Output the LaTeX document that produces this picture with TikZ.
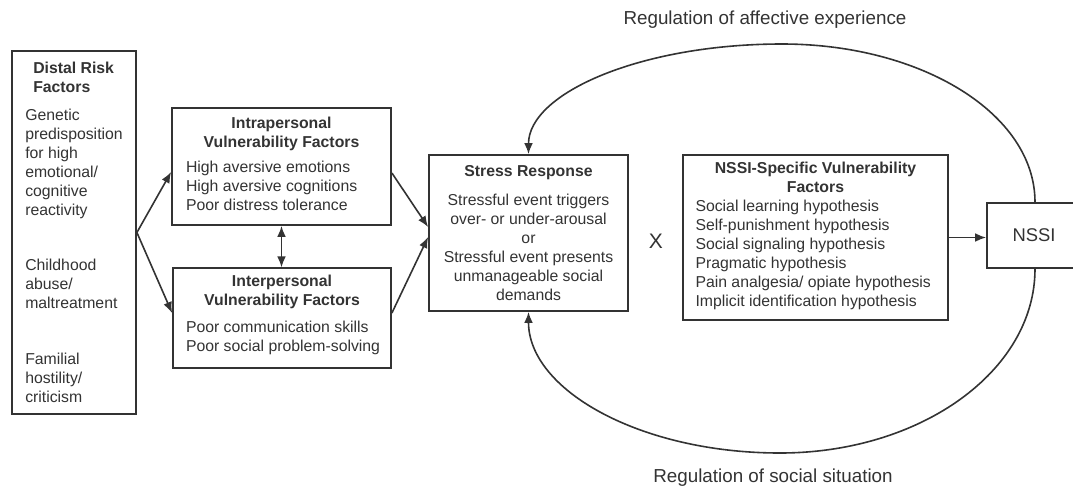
\documentclass[tikz,border=0pt]{standalone}
\usepackage{fontspec}
\setmainfont{Liberation Sans}
\usetikzlibrary{arrows.meta}
\definecolor{ink}{HTML}{333333}

\begin{document}
\begin{tikzpicture}[x=0.5pt, y=-0.5pt, ink, text=ink,
  font=\fontsize{7.9}{9.5}\selectfont,
  >={Latex[length=5.5pt,width=4.4pt]},
  box/.style={draw, line width=0.9pt, align=center},
  arr/.style={->, line width=0.8pt},
  lbl/.style={font=\fontsize{9.4}{11}\selectfont}]
\useasboundingbox (0,0) rectangle (1073,489);

% Distal risk factors
\node[box, align=left, minimum width=62pt, minimum height=181.5pt] (distal) at (74,232.5)
  {\hspace*{4pt}\textbf{Distal Risk}\\\hspace*{4pt}\textbf{Factors}\\[4.8pt]
   Genetic\\predisposition\\for high\\emotional/\\cognitive\\reactivity\\[18pt]
   Childhood\\abuse/\\maltreatment\\[18.5pt]
   Familial\\hostility/\\criticism};

% Vulnerability factors
\node[box, minimum width=109.5pt, minimum height=58.5pt] (intra) at (281.5,166.5)
  {\textbf{Intrapersonal}\\\textbf{Vulnerability Factors}\\[3pt]
   \makebox[95.5pt][l]{\begin{tabular}[t]{@{}l@{}}High aversive emotions\\High aversive cognitions\\Poor distress tolerance\end{tabular}}};
\node[box, minimum width=109pt, minimum height=49pt] (inter) at (282,318)
  {\textbf{Interpersonal}\\\textbf{Vulnerability Factors}\\[4pt]
   \makebox[96pt][l]{\begin{tabular}[t]{@{}l@{}}Poor communication skills\\Poor social problem-solving\end{tabular}}\\[1pt]\mbox{}};

% Stress response
\node[box, minimum width=99.5pt, minimum height=78pt] (stress) at (528.5,233)
  {\textbf{Stress Response}\\[4.8pt]Stressful event triggers\\over- or under-arousal\\or\\Stressful event presents\\unmanageable social\\demands};

\node[font=\fontsize{10.5}{12}\selectfont] (times) at (656,241) {X};

% NSSI-specific factors and NSSI
\node[box, minimum width=132.5pt, minimum height=82.5pt] (spec) at (815.5,237.5)
  {\textbf{NSSI-Specific Vulnerability}\\\textbf{Factors}\\
   \makebox[120pt][l]{\begin{tabular}[t]{@{}l@{}}Social learning hypothesis\\Self-punishment hypothesis\\Social signaling hypothesis\\Pragmatic hypothesis\\Pain analgesia/ opiate hypothesis\\Implicit identification hypothesis\end{tabular}}};
\node[box, minimum width=47pt, minimum height=32.5pt, font=\fontsize{9.2}{11}\selectfont] (nssi) at (1034,235.5) {NSSI};

% Labels of the loops
\node[lbl] (regaff) at (765,20) {Regulation of affective experience};
\node[lbl] (regsoc) at (773,478) {Regulation of social situation};
\coordinate (toparc) at (782,44);
\coordinate (botarc) at (780,453);

% Arrows
\draw[arr] (distal.east) -- ([yshift=-2.75pt]intra.west);
\draw[arr] (distal.east) -- ([yshift=2.5pt]inter.west);
\draw[arr, <->] (intra.south) -- (intra.south |- inter.north);
\draw[arr] ([yshift=-3.25pt]intra.east) -- ([yshift=3pt]stress.west);
\draw[arr] ([yshift=2.5pt]inter.east) -- ([yshift=-2pt]stress.west);
\draw[arr] (spec.east) -- (spec.east -| nssi.west);

% Feedback loops
\draw[arr] ([xshift=0.5pt]nssi.north) .. controls +(0,-88) and +(140,0) .. (toparc)
  .. controls +(-141,0) and +(0,-61) .. (stress.north);
\draw[arr] ([xshift=0.5pt]nssi.south) .. controls +(0,102) and +(141,0) .. (botarc)
  .. controls +(-140,0) and +(0,78) .. (stress.south);
\end{tikzpicture}
\end{document}
